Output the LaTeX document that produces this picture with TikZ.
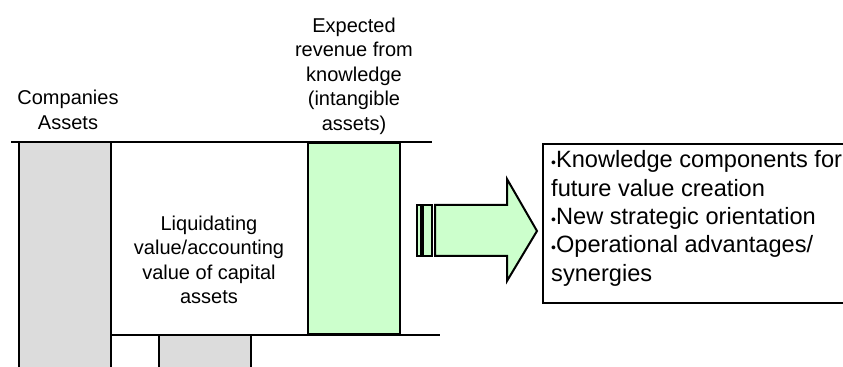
\documentclass[tikz,border=0pt]{standalone}
\usepackage{fontspec}
\setmainfont{Liberation Sans}
\usetikzlibrary{positioning}

\definecolor{assetgray}{RGB}{220,220,220}
\definecolor{knowgreen}{RGB}{204,255,204}

% small bullet used in the effects list
\newcommand\listdot{{\fontsize{7}{7}\selectfont\textbullet}}

\begin{document}
\begin{tikzpicture}[x=0.5pt, y=-0.5pt,
    rule/.style={line width=1pt},
    assetbar/.style={draw, line width=1pt, fill=assetgray},
    knowbar/.style={draw, line width=1pt, fill=knowgreen, inner sep=0pt},
    caption/.style={align=center, inner sep=0pt, font=\fontsize{10}{12.25}\selectfont},
    infobox/.style={draw, line width=1pt, fill=white, inner sep=0pt},
    infotext/.style={align=left, inner sep=0pt, font=\fontsize{11.8}{14.2}\selectfont}]
    \useasboundingbox (0,0) rectangle (843,367);
    \clip (0,0) rectangle (843,367);

    % balance sheet columns
    \draw[assetbar] (19,142) rectangle (111,390);
    \draw[assetbar] (159,335) rectangle (251,390);
    \node[knowbar, minimum width=46pt, minimum height=95.5pt, anchor=north west] (know) at (307,142) {};

    \draw[rule] (11,142) -- (432,142);
    \draw[rule] (111,335) -- (440,335);

    \node[caption] (companies) at (68,110) {Companies\\Assets};
    \node[caption, above=3.5pt of know] (expected) {Expected\\revenue from\\knowledge\\(intangible\\assets)};
    \node[caption] (liquid) at (209,260) {Liquidating\\value/accounting\\value of capital\\assets};

    % striped block arrow
    \draw[knowbar] (416.7,205) rectangle (421,256);
    \draw[knowbar] (423.3,205) rectangle (431.7,256);
    \draw[knowbar, line join=miter] (435,205) -- (507,205) -- (507,179) -- (537,231)
        -- (507,281) -- (507,256) -- (435,256) -- cycle;

    % effects of the intangible assets
    \node[infobox, minimum width=164pt, minimum height=79.5pt, anchor=north west] (box) at (542,143) {};
    \node[infotext, anchor=north west] (effects) at ([xshift=4.4pt, yshift=-3.6pt]box.north west)
        {\listdot Knowledge components for\\
         future value creation\\
         \listdot New strategic orientation\\
         \listdot Operational advantages/\\
         synergies};
\end{tikzpicture}
\end{document}
